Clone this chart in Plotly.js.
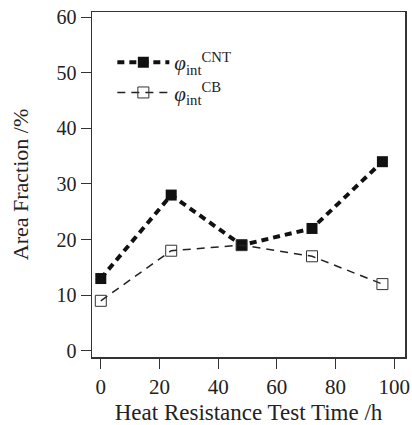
<!DOCTYPE html>
<html><head><meta charset="utf-8">
<script src="https://cdn.plot.ly/plotly-3.0.1.min.js"></script>
<style>body{margin:0;background:#fff}#c{width:412px;height:425px}</style>
</head><body><div id="c"></div>
<script>
const hours = [0, 24, 48, 72, 96];
const cntValues = [13, 28, 19, 22, 34];
const cbValues = [9, 18, 19, 17, 12];
const seriesNames = ['<i>φ</i><sub>int</sub><sup>CNT</sup>', '<i>φ</i><sub>int</sub><sup>CB</sup>'];
const xTicks = [0, 20, 40, 60, 80, 100];
const yTicks = [0, 10, 20, 30, 40, 50, 60];

const font = 'Liberation Serif, Times New Roman, serif';
const traces = [
  {x: hours, y: cntValues, name: seriesNames[0], type: 'scatter', mode: 'lines+markers',
   line: {color: '#111', width: 4, dash: '7px,5px'},
   marker: {symbol: 'square', size: 11, color: '#111'}},
  {x: hours, y: cbValues, name: seriesNames[1], type: 'scatter', mode: 'lines+markers',
   line: {color: '#222', width: 1.5, dash: '8px,6px'},
   marker: {symbol: 'square-open', size: 11, color: '#333', line: {width: 1}}}
];
const layout = {
  width: 412, height: 425,
  margin: {l: 92, r: 7, t: 12, b: 68},
  paper_bgcolor: '#fff', plot_bgcolor: '#fff',
  font: {family: font, color: '#222', size: 20},
  showlegend: true,
  legend: {x: 0.065, y: 0.913, xanchor: 'left', yanchor: 'top', bgcolor: 'rgba(0,0,0,0)',
    font: {family: font, size: 21, color: '#222'}, itemwidth: 52},
  xaxis: {range: [-3, 103.7], tickvals: xTicks, ticks: 'outside', ticklen: 10, tickcolor: '#333',
    showgrid: false, zeroline: false, showline: true, linecolor: '#333', linewidth: 1.5, mirror: true,
    tickfont: {size: 21, family: font},
    title: {text: 'Heat Resistance Test Time /h', font: {size: 23, family: font}, standoff: 14}},
  yaxis: {range: [-1.1, 60.9], tickvals: yTicks, ticks: 'outside', ticklen: 10, tickcolor: '#333',
    showgrid: false, zeroline: false, showline: true, linecolor: '#333', linewidth: 1.5, mirror: true,
    tickfont: {size: 20, family: font},
    title: {text: 'Area Fraction /%', font: {size: 22, family: font}, standoff: 22}}
};
Plotly.newPlot('c', traces, layout, {displayModeBar: false, staticPlot: true});
</script></body></html>
